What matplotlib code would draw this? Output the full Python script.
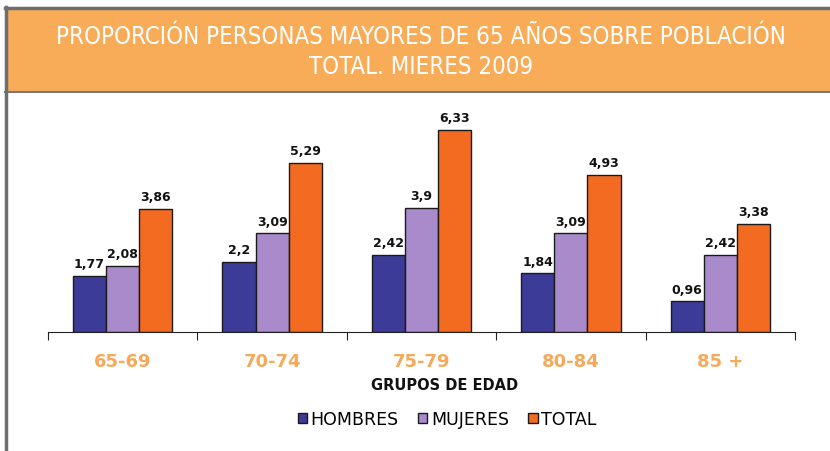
import numpy as np
import matplotlib.pyplot as plt
from matplotlib.patches import Rectangle
from matplotlib.lines import Line2D
from matplotlib import font_manager

grupos = ["65-69", "70-74", "75-79", "80-84", "85 +"]
hombres = [1.77, 2.2, 2.42, 1.84, 0.96]
mujeres = [2.08, 3.09, 3.9, 3.09, 2.42]
total = [3.86, 5.29, 6.33, 4.93, 3.38]
series = ["HOMBRES", "MUJERES", "TOTAL"]
colores = ["#3d3b98", "#a98bcc", "#f26b21"]

# narrow font for the title if there is one
stretch = "normal"
if any(f.name == "DejaVu Sans" and f.stretch == "condensed" for f in font_manager.fontManager.ttflist):
    stretch = "condensed"

W, H = 830, 452
fig = plt.figure(figsize=(W / 100, H / 100), dpi=100)

# header
fig.patches.append(Rectangle((5 / W, 1 - 93 / H), 1, 84 / H, transform=fig.transFigure,
                             facecolor="#f9ac58", edgecolor="none", zorder=0))
fig.lines.append(Line2D([5 / W, 1], [1 - 9 / H, 1 - 9 / H], transform=fig.transFigure,
                        color="#6e6e6e", lw=2.5))
fig.lines.append(Line2D([5 / W, 1], [1 - 93 / H, 1 - 93 / H], transform=fig.transFigure,
                        color="#7a7a7a", lw=1.5))
fig.lines.append(Line2D([6 / W, 6 / W], [0, 1 - 8 / H], transform=fig.transFigure,
                        color="#6e6e6e", lw=2.5))
fig.text(421 / W, 1 - 52 / H, "PROPORCIÓN PERSONAS MAYORES DE 65 AÑOS SOBRE POBLACIÓN\nTOTAL. MIERES 2009",
         ha="center", va="center", color="white", fontsize=17.2, family="DejaVu Sans", stretch=stretch,
         linespacing=1.3)

ax = fig.add_axes([48 / W, 1 - 333 / H, (795 - 48) / W, (333 - 100) / H])
x = np.arange(len(grupos))
w = 0.222
for i, (vals, col) in enumerate(zip([hombres, mujeres, total], colores)):
    pos = x + (i - 1) * w
    ax.bar(pos, vals, w, color=col, edgecolor="#1a1a1a", linewidth=1.0, label=series[i])
    for px, v in zip(pos, vals):
        ax.text(px, v + 0.18, str(v).replace(".", ","), ha="center", va="bottom",
                fontsize=9, fontweight="bold", color="#111111", family="DejaVu Sans")

ax.set_xlim(-0.5, len(grupos) - 0.5)
ax.set_ylim(0, 7.3)
ax.set_yticks([])
for s in ["top", "right", "left"]:
    ax.spines[s].set_visible(False)
ax.spines["bottom"].set_color("#222222")
ax.set_xticks(np.arange(len(grupos) + 1) - 0.5, minor=False)
ax.set_xticklabels([])
ax.tick_params(axis="x", direction="out", length=6, color="#222222")
for xi, g in zip(x, grupos):
    ax.text(xi, -0.9, g, ha="center", va="center", color="#f5a95a", fontsize=13,
            fontweight="bold", family="DejaVu Sans")
fig.text(445 / W, 1 - 385 / H, "GRUPOS DE EDAD", ha="center", va="center", fontsize=10.5,
         fontweight="bold", color="#111111", family="DejaVu Sans")

fig.legend(loc="center", bbox_to_anchor=(447 / W, 1 - 420 / H), ncol=3, frameon=False,
           handlelength=0.55, handleheight=0.55, handletextpad=0.2, columnspacing=1.1,
           prop={"family": "DejaVu Sans", "size": 12.5})

fig.savefig("out.png", dpi=100)
